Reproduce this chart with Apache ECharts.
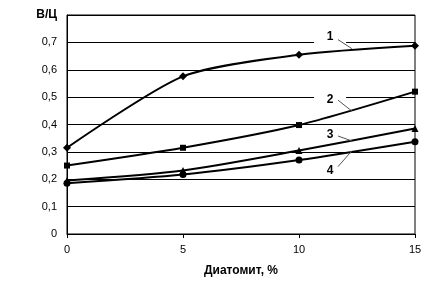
<!DOCTYPE html>
<html><head><meta charset="utf-8">
<script src="https://cdn.jsdelivr.net/npm/echarts@6/dist/echarts.min.js"></script>
<style>html,body{margin:0;padding:0;background:#fff}#c{width:430px;height:282px}</style>
</head><body><div id="c"></div>
<script>
const xValues = [0, 5, 10, 15];
const series1 = [0.315, 0.576, 0.655, 0.688];
const series2 = [0.25, 0.315, 0.398, 0.52];
const series3 = [0.195, 0.232, 0.305, 0.385];
const series4 = [0.185, 0.217, 0.27, 0.337];
const seriesNames = ['1', '2', '3', '4'];
const symbols = ['diamond', 'rect', 'triangle', 'circle'];
const symbolSizes = [8, 6, 7, 7];
const yTitle = 'В/Ц';
const xTitle = 'Диатомит, %';
// label anchor [x, y] and leader line [[x1,y1],[x2,y2]] in data coordinates
const labelPos = [[11.34, 0.72], [11.34, 0.492], [11.34, 0.362], [11.34, 0.232]];
const leaders = [
  [[11.68, 0.71], [12.28, 0.677]],
  [[11.68, 0.489], [12.28, 0.449]],
  [[11.68, 0.358], [12.28, 0.340]],
  [[11.68, 0.246], [12.28, 0.304]]
];
const allData = [series1, series2, series3, series4];

const chart = echarts.init(document.getElementById('c'), null, {renderer: 'canvas'});
const font = 'Liberation Sans, Arial, sans-serif';
chart.setOption({
  animation: false,
  backgroundColor: '#fff',
  grid: {left: 67, right: 15, top: 15, bottom: 46, show: true, borderColor: '#000', borderWidth: 1},
  xAxis: {
    type: 'value', min: 0, max: 15, interval: 5,
    name: xTitle, nameLocation: 'middle', nameGap: 31,
    nameTextStyle: {fontFamily: font, fontSize: 12, fontWeight: 'bold', color: '#000'},
    axisLine: {lineStyle: {color: '#000', width: 1}},
    axisTick: {show: true, inside: false, length: 4, lineStyle: {color: '#000'}},
    axisLabel: {fontFamily: font, fontSize: 11, color: '#000', margin: 10},
    splitLine: {show: false}
  },
  yAxis: {
    type: 'value', min: 0, max: 0.8, interval: 0.1,
    axisLine: {show: true, lineStyle: {color: '#000', width: 1}},
    axisTick: {show: false},
    axisLabel: {
      fontFamily: font, fontSize: 11, color: '#000', margin: 10,
      formatter: function (v) {
        if (Math.abs(v - 0.8) < 1e-9) return '{t|' + yTitle + '}';
        return (Math.round(v * 10) / 10).toString().replace('.', ',');
      },
      rich: {t: {fontFamily: font, fontSize: 12, fontWeight: 'bold', color: '#000'}}
    },
    splitLine: {show: true, lineStyle: {color: '#000', width: 1}}
  },
  series: allData.map(function (d, i) {
    return {
      type: 'line', name: seriesNames[i],
      data: xValues.map(function (x, j) { return [x, d[j]]; }),
      smooth: 0.25,
      symbol: symbols[i], symbolSize: symbolSizes[i],
      lineStyle: {color: '#000', width: 2},
      itemStyle: {color: '#000'},
      z: 3,
      markLine: {
        silent: true, symbol: 'none', animation: false, z: 6,
        lineStyle: {color: '#555', width: 1, type: 'solid'},
        label: {show: false},
        data: [[{coord: leaders[i][0]}, {coord: leaders[i][1]}]]
      },
      markPoint: {
        silent: true, symbol: 'rect', symbolSize: [32, 12], z: 1,
        itemStyle: {color: '#fff'},
        label: {show: true, formatter: seriesNames[i], fontFamily: font, fontSize: 12, fontWeight: 'bold', color: '#000'},
        data: [{coord: labelPos[i]}]
      }
    };
  })
});
</script></body></html>
